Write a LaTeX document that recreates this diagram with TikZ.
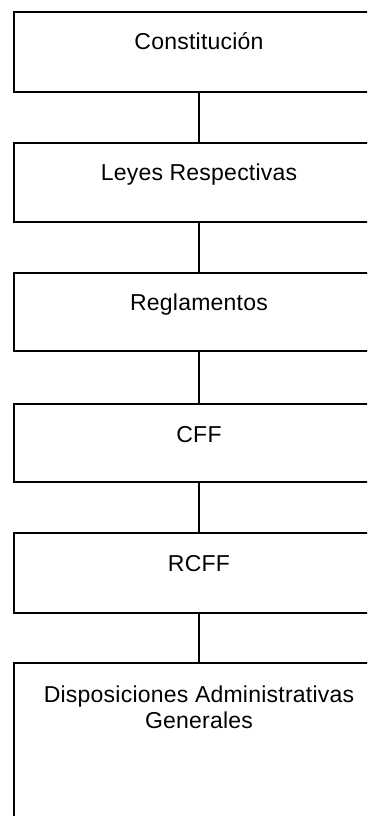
\documentclass[tikz,border=0pt]{standalone}
\usepackage{fontspec}
\setmainfont[LetterSpace=1]{Liberation Sans}
\begin{document}
\begin{tikzpicture}[x=1pt,y=1pt,
  box/.style={draw=black, line width=1.8pt, fill=white, minimum width=370pt, inner sep=0pt},
  lbl/.style={font=\fontsize{23}{26}\selectfont, inner sep=0pt, align=center},
  conn/.style={draw=black, line width=1.8pt}]
\useasboundingbox (0,0) rectangle (367,-816);
\fill[white] (0,0) rectangle (367,-816);
\clip (0,0) rectangle (367,-816);
\node[box, minimum height=80pt] (b1) at (199,-52) {};
\node[box, minimum height=79pt] (b2) at (199,-182.5) {};
\node[box, minimum height=78pt] (b3) at (199,-312) {};
\node[box, minimum height=78pt] (b4) at (199,-443) {};
\node[box, minimum height=80pt] (b5) at (199,-573) {};
\node[box, minimum height=240pt] (b6) at (199,-783) {};
\draw[conn] (b1.south) -- (b2.north);
\draw[conn] (b2.south) -- (b3.north);
\draw[conn] (b3.south) -- (b4.north);
\draw[conn] (b4.south) -- (b5.north);
\draw[conn] (b5.south) -- (b6.north);
\node[lbl, anchor=base] (t1) at ([yshift=-38pt]b1.north) {Constitución};
\node[lbl, anchor=base] (t2) at ([yshift=-38pt]b2.north) {Leyes Respectivas};
\node[lbl, anchor=base] (t3) at ([yshift=-38pt]b3.north) {Reglamentos};
\node[lbl, anchor=base] (t4) at ([yshift=-39pt]b4.north) {CFF};
\node[lbl, anchor=base] (t5) at ([yshift=-39pt]b5.north) {RCFF};
\node[lbl, anchor=north] (t6) at ([yshift=-24pt]b6.north) {Disposiciones Administrativas\\Generales};
\end{tikzpicture}
\end{document}
